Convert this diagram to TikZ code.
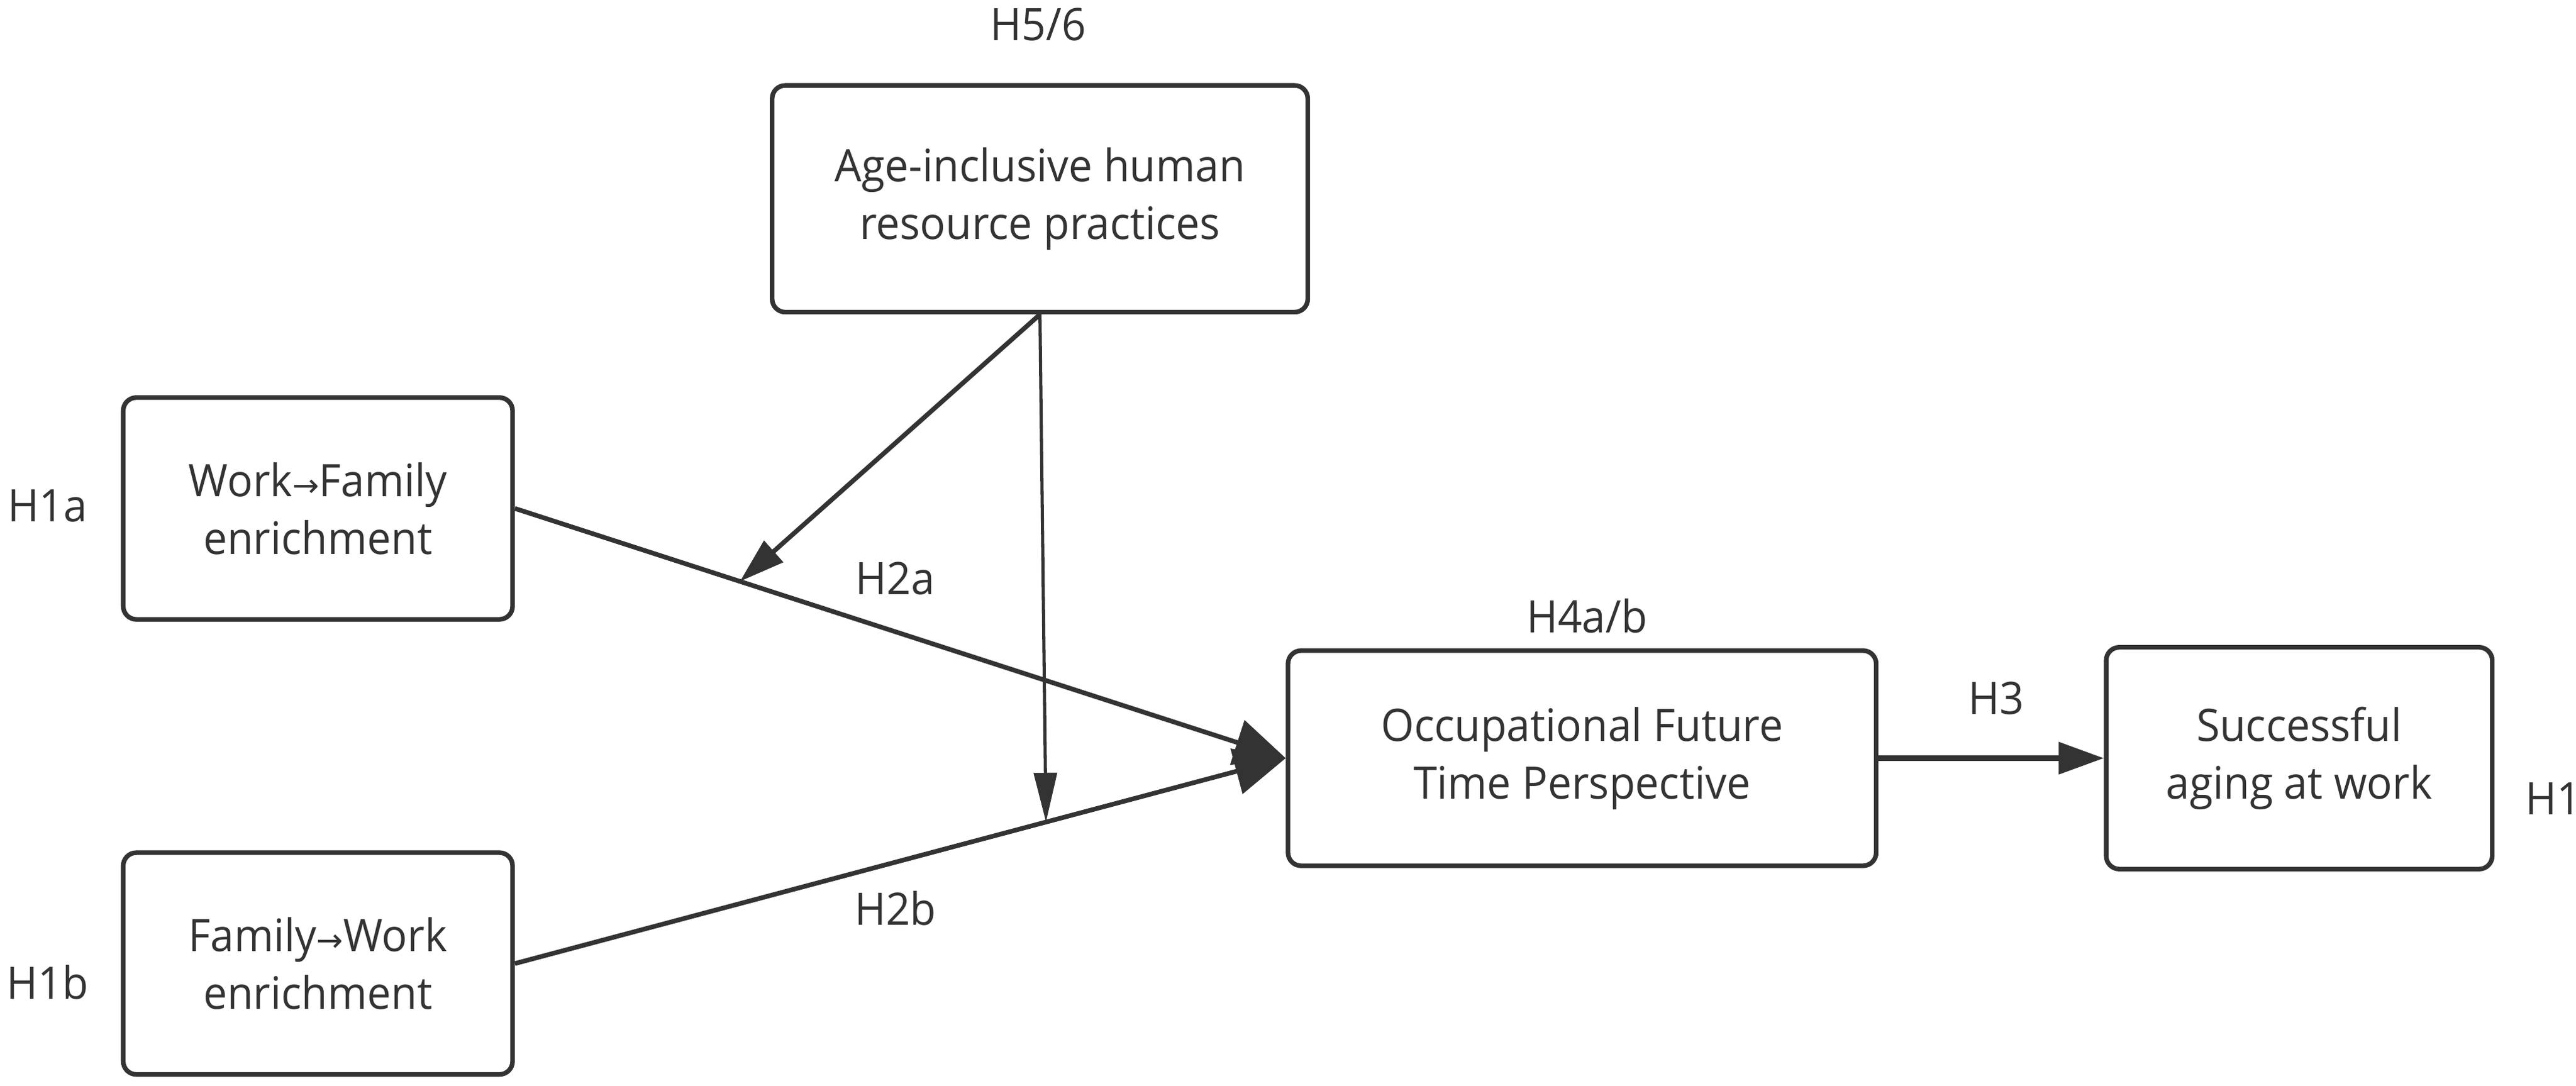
\documentclass[tikz,border=0pt]{standalone}
\usepackage{fontspec}
\setmainfont[FakeStretch=0.95]{Open Sans}
\newfontfamily\arrowfont{DejaVu Sans}
\usepackage{tikz}
\usetikzlibrary{arrows.meta,positioning,calc}

\definecolor{ink}{HTML}{333333}
\tikzset{
  varbox/.style={draw=ink, line width=1.6pt, rounded corners=0.16cm, fill=white,
    align=center, text=ink, font=\fontsize{15.5}{20}\selectfont},
  hyplabel/.style={text=ink, font=\fontsize{15.5}{18}\selectfont},
  path/.style={draw=ink, line width=1.6pt},
  modpath/.style={draw=ink, line width=1.1pt}
}
\newcommand{\toarrow}{{\arrowfont\fontsize{11}{11}\selectfont →}}

\begin{document}
\begin{tikzpicture}
\useasboundingbox (0,0) rectangle (31.36,13.22);

\node [varbox, minimum width=6.52cm, minimum height=2.76cm] (hrp) at (12.66,10.8) {Age-inclusive human\\resource practices};
\node [varbox, minimum width=4.74cm, minimum height=2.7cm] (wfe) at (3.87,7.03) {Work\toarrow Family\\enrichment};
\node [varbox, minimum width=4.74cm, minimum height=2.7cm] (fwe) at (3.87,1.49) {Family\toarrow Work\\enrichment};
\node [varbox, minimum width=7.16cm, minimum height=2.62cm] (oftp) at (19.26,3.99) {Occupational Future\\Time Perspective};
\node [varbox, minimum width=4.7cm, minimum height=2.7cm] (saw) at (27.99,3.99) {Successful\\aging at work};

\node [hyplabel] (h56) at (12.64,12.92) {H5/6};
\node [hyplabel] (h1a) at (0.58,7.06) {H1a};
\node [hyplabel] (h1b) at (0.58,1.26) {H1b};
\node [hyplabel] (h4ab) at (19.32,5.72) {H4a/b};
\node [hyplabel] (h3) at (24.3,4.72) {H3};
\node [hyplabel] (h2a) at (10.9,6.18) {H2a};
\node [hyplabel] (h2b) at (10.9,2.16) {H2b};
\node [hyplabel, anchor=west] (h1) at (30.62,3.5) {H1};

\path (wfe.east) -- (oftp.west) coordinate[pos=0.292] (moda);
\path (fwe.east) -- (oftp.west) coordinate[pos=0.689] (modb);

\draw [path, -{Triangle[length=0.62cm,width=0.56cm]}] (wfe.east) -- (oftp.west);
\draw [path, -{Triangle[length=0.62cm,width=0.56cm]}] (fwe.east) -- (oftp.west);
\draw [path, line width=1.9pt, -{Triangle[length=0.55cm,width=0.38cm]}] (oftp.east) -- (saw.west);
\draw [path, -{Triangle[length=0.55cm,width=0.34cm]}] (hrp.south) -- (moda);
\draw [modpath, -{Triangle[length=0.6cm,width=0.28cm]}] (hrp.south) -- (modb);

\end{tikzpicture}
\end{document}
